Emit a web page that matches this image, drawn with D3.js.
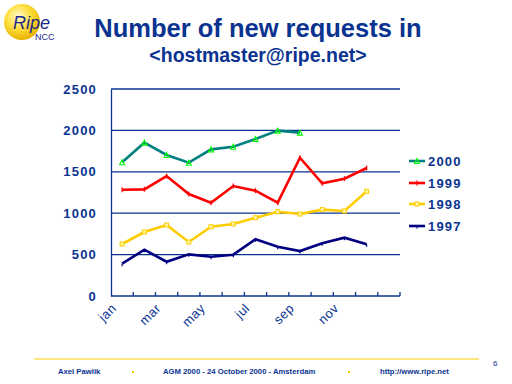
<!DOCTYPE html>
<html>
<head>
<meta charset="utf-8">
<script src="https://cdn.jsdelivr.net/npm/d3@7"></script>
<style>
  body { margin: 0; background: #fff; }
  svg { display: block; font-family: "Liberation Sans", Arial, sans-serif; }
</style>
</head>
<body>
<script>
// months on the x axis (13th slot is empty in the original)
var months = ["jan", "feb", "mar", "apr", "may", "jun", "jul", "aug", "sep", "oct", "nov", "dec", ""];
var shownLabels = ["jan", "mar", "may", "jul", "sep", "nov"];
var yTicks = [0, 500, 1000, 1500, 2000, 2500];

// new requests per month
var y2000 = [1615, 1852, 1703, 1610, 1771, 1803, 1896, 1997, 1973];
var y1999 = [1284, 1288, 1449, 1232, 1127, 1328, 1272, 1127, 1670, 1361, 1417, 1546];
var y1998 = [628, 773, 857, 652, 837, 870, 946, 1018, 990, 1043, 1027, 1264];
var y1997 = [390, 559, 414, 503, 475, 499, 685, 596, 543, 636, 704, 624];

var seriesNames = ["2000", "1999", "1998", "1997"];
var seriesColors = ["#008080", "#ff0000", "#ffcc00", "#000080"];

var navy = "#0a3391";

var svg = d3.select("body").append("svg")
    .attr("width", 512)
    .attr("height", 384);

// ---- logo ----
var logo = svg.append("g");
var grad = svg.append("defs").append("radialGradient")
    .attr("id", "ball").attr("cx", "40%").attr("cy", "35%").attr("r", "65%");
grad.append("stop").attr("offset", "0%").attr("stop-color", "#fffbd0");
grad.append("stop").attr("offset", "50%").attr("stop-color", "#ffe040");
grad.append("stop").attr("offset", "100%").attr("stop-color", "#e8b400");
logo.append("circle").attr("cx", 22).attr("cy", 22).attr("r", 18).attr("fill", "url(#ball)");
logo.append("text").attr("x", 13).attr("y", 29)
    .style("font-size", "18px").style("font-style", "italic")
    .attr("fill", "#1a2a8a").text("Ripe");
logo.append("text").attr("x", 35).attr("y", 40)
    .style("font-size", "9px").attr("fill", "#1a2a8a").text("NCC");

// ---- titles ----
svg.append("text").attr("x", 258).attr("y", 37)
    .attr("text-anchor", "middle")
    .style("font-size", "25.5px").style("font-weight", "bold")
    .attr("fill", navy).text("Number of new requests in");
svg.append("text").attr("x", 258).attr("y", 62)
    .attr("text-anchor", "middle")
    .style("font-size", "19.5px").style("font-weight", "bold")
    .attr("fill", navy).text("<hostmaster@ripe.net>");

// ---- chart ----
var x = d3.scaleBand().domain(months).range([111, 400]);
var y = d3.scaleLinear().domain([0, 2500]).range([296, 89]);

// gridlines
svg.append("g").selectAll("line")
    .data(yTicks.filter(function(d) { return d > 0; }))
    .enter().append("line")
    .attr("x1", 111).attr("x2", 400)
    .attr("y1", function(d) { return y(d); })
    .attr("y2", function(d) { return y(d); })
    .attr("stroke", navy).attr("stroke-width", 1.3);

// y axis
var yAxis = svg.append("g").attr("transform", "translate(111,0)")
    .call(d3.axisLeft(y).tickValues(yTicks).tickFormat(d3.format("d")).tickSize(0).tickPadding(14));
yAxis.select(".domain").attr("stroke", navy).attr("stroke-width", 1.3);
yAxis.selectAll("text")
    .attr("fill", navy)
    .style("font-size", "13px").style("font-weight", "bold")
    .style("letter-spacing", "1.2px")
    .style("font-family", "'Liberation Sans', Arial, sans-serif");

// x axis baseline and ticks between categories
svg.append("line").attr("x1", 111).attr("x2", 400).attr("y1", 296).attr("y2", 296)
    .attr("stroke", navy).attr("stroke-width", 1.3);
svg.append("g").selectAll("line")
    .data(months)
    .enter().append("line")
    .attr("x1", function(d) { return x(d) + x.bandwidth(); })
    .attr("x2", function(d) { return x(d) + x.bandwidth(); })
    .attr("y1", 292).attr("y2", 296)
    .attr("stroke", navy).attr("stroke-width", 1.3);

svg.append("g").selectAll("text")
    .data(shownLabels)
    .enter().append("text")
    .attr("text-anchor", "end")
    .attr("transform", function(d) {
      return "translate(" + (x(d) + x.bandwidth() / 2 - 5) + ",309) rotate(-45)";
    })
    .attr("fill", navy)
    .style("font-size", "13px")
    .style("letter-spacing", "0.5px")
    .text(function(d) { return d; });

// lines
var allSeries = [y2000, y1999, y1998, y1997];
var line = d3.line()
    .x(function(d, i) { return x(months[i]) + x.bandwidth() / 2; })
    .y(function(d) { return y(d); });

// draw back to front: 1997 first
for (var s = allSeries.length - 1; s >= 0; s--) {
  svg.append("path")
      .datum(allSeries[s])
      .attr("d", line)
      .attr("fill", "none")
      .attr("stroke", seriesColors[s])
      .attr("stroke-width", 2.6);
}

// markers
function drawMarker(g, name, cx, cy) {
  if (name == "2000") {
    g.append("path")
      .attr("d", "M" + cx + "," + (cy - 2.5) + " L" + (cx + 2.5) + "," + (cy + 2.5) + " L" + (cx - 2.5) + "," + (cy + 2.5) + " Z")
      .attr("fill", "none").attr("stroke", "#00ff00").attr("stroke-width", 1.1);
  } else if (name == "1999") {
    g.append("line").attr("x1", cx).attr("x2", cx).attr("y1", cy - 2.5).attr("y2", cy + 2.5)
      .attr("stroke", "#ff0000").attr("stroke-width", 1.2);
  } else if (name == "1998") {
    g.append("rect").attr("x", cx - 2).attr("y", cy - 2).attr("width", 4).attr("height", 4)
      .attr("fill", "#fff8a0").attr("stroke", "#ffcc00").attr("stroke-width", 1);
  } else {
    g.append("line").attr("x1", cx).attr("x2", cx).attr("y1", cy).attr("y2", cy + 2.5)
      .attr("stroke", "#000080").attr("stroke-width", 1.2);
  }
}

var markers = svg.append("g");
for (var s = allSeries.length - 1; s >= 0; s--) {
  allSeries[s].forEach(function(v, i) {
    drawMarker(markers, seriesNames[s], x(months[i]) + x.bandwidth() / 2, y(v));
  });
}

// legend
var legendY = [161, 183, 204, 226];
var legend = svg.append("g");
seriesNames.forEach(function(name, i) {
  legend.append("line")
    .attr("x1", 409).attr("x2", 425)
    .attr("y1", legendY[i]).attr("y2", legendY[i])
    .attr("stroke", seriesColors[i]).attr("stroke-width", 2.6);
  drawMarker(legend, name, 417, legendY[i]);
  legend.append("text")
    .attr("x", 428).attr("y", legendY[i] + 5)
    .attr("fill", navy)
    .style("font-size", "13px").style("font-weight", "bold")
    .style("letter-spacing", "1.2px")
    .text(name);
});

// ---- footer ----
svg.append("line").attr("x1", 34).attr("x2", 479).attr("y1", 359).attr("y2", 359)
    .attr("stroke", "#ffcc00").attr("stroke-width", 1);
svg.append("text").attr("x", 493).attr("y", 366)
    .attr("fill", navy).style("font-size", "8px").text("6");

var footerTexts = ["Axel Pawlik", "AGM 2000 - 24 October 2000 - Amsterdam", "http://www.ripe.net"];
var footerX = [58, 163, 380];
svg.append("g").selectAll("text")
    .data(footerTexts)
    .enter().append("text")
    .attr("x", function(d, i) { return footerX[i]; })
    .attr("y", 374)
    .attr("fill", navy)
    .style("font-size", "7.7px").style("font-weight", "bold")
    .text(function(d) { return d; });
svg.append("g").selectAll("rect")
    .data([132, 348])
    .enter().append("rect")
    .attr("x", function(d) { return d; }).attr("y", 371)
    .attr("width", 2).attr("height", 2)
    .attr("fill", "#ffcc00");
</script>
</body>
</html>
